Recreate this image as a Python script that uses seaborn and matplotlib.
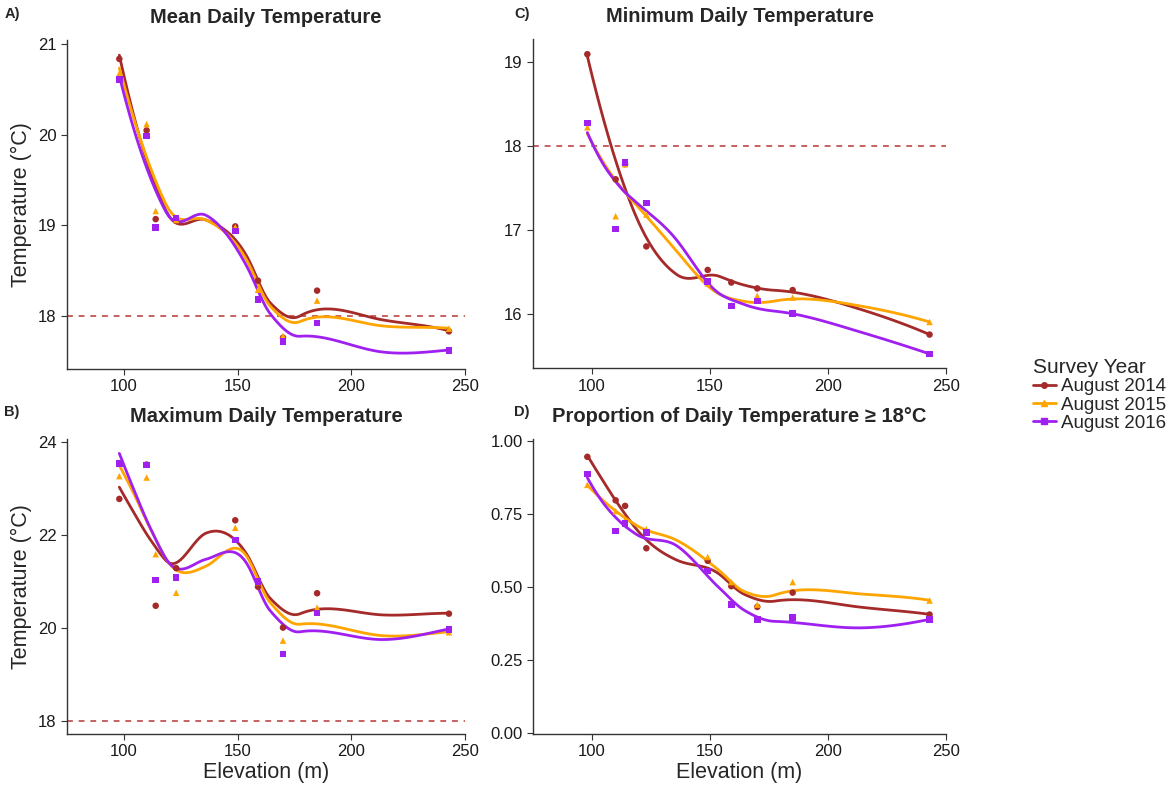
import numpy as np
import pandas as pd
import matplotlib
matplotlib.use("Agg")
import matplotlib.pyplot as plt
import seaborn as sns
from matplotlib.lines import Line2D

sns.set_theme(style="ticks")
plt.rcParams['font.family'] = ['Liberation Sans', 'DejaVu Sans']

# ---------------- data ----------------
elevation = [98, 110, 114, 123, 149, 159, 170, 185, 243]
years = ["August 2014", "August 2015", "August 2016"]

mean_2014 = [20.84, 20.05, 19.07, 19.05, 18.99, 18.39, 17.76, 18.28, 17.83]
mean_2015 = [20.68, 20.12, 19.16, 19.06, 18.98, 18.29, 17.78, 18.17, 17.86]
mean_2016 = [20.61, 19.99, 18.98, 19.08, 18.94, 18.18, 17.72, 17.92, 17.62]

min_2014 = [19.09, 17.60, 17.78, 16.80, 16.52, 16.37, 16.30, 16.28, 15.75]
min_2015 = [18.22, 17.16, 17.78, 17.18, 16.36, 16.10, 16.21, 16.19, 15.90]
min_2016 = [18.27, 17.01, 17.80, 17.32, 16.38, 16.09, 16.15, 16.00, 15.52]

max_2014 = [22.77, 23.51, 20.47, 21.28, 22.31, 20.88, 20.00, 20.74, 20.30]
max_2015 = [23.26, 23.23, 21.58, 20.75, 22.15, 20.98, 19.72, 20.43, 19.90]
max_2016 = [23.53, 23.50, 21.03, 21.08, 21.89, 20.99, 19.43, 20.31, 19.96]

prop_2014 = [0.946, 0.797, 0.778, 0.633, 0.590, 0.503, 0.432, 0.481, 0.406]
prop_2015 = [0.850, 0.760, 0.730, 0.698, 0.603, 0.517, 0.440, 0.517, 0.454]
prop_2016 = [0.887, 0.692, 0.718, 0.686, 0.555, 0.440, 0.389, 0.395, 0.389]

palette = {"August 2014": "#A52A2A", "August 2015": "#FFA500", "August 2016": "#A020F0"}
markers = {"August 2014": "o", "August 2015": "^", "August 2016": "s"}
threshold = 18

panels = [
    ("A)", "Mean Daily Temperature", [mean_2014, mean_2015, mean_2016], [0.0573, 0.533, 0.340, 0.4165], (17.415, 21.05), [18, 19, 20, 21], True, False, True, (12, 14)),
    ("C)", "Minimum Daily Temperature", [min_2014, min_2015, min_2016], [0.4556, 0.534, 0.353, 0.4165], (15.35, 19.27), [16, 17, 18, 19], False, False, True, (522, 14)),
    ("B)", "Maximum Daily Temperature", [max_2014, max_2015, max_2016], [0.0573, 0.0709, 0.340, 0.3734], (17.71, 24.06), [18, 20, 22, 24], True, True, True, (12, 412)),
    ("D)", "Proportion of Daily Temperature \u2265 18\u00b0C", [prop_2014, prop_2015, prop_2016], [0.4556, 0.0709, 0.353, 0.3734], (-0.003, 1.007), [0.0, 0.25, 0.5, 0.75, 1.0], False, True, False, (522, 412)),
]


def local_fit(x, y, x0, q, degree=2):
    d = np.abs(x - x0)
    ds = np.sort(d)
    h = (ds[q - 1] + ds[min(q, len(ds) - 1)]) / 2
    w = np.clip(1 - (d / h) ** 3, 0, None) ** 3
    X = np.vander(x - x0, degree + 1)
    sw = np.sqrt(w)
    beta, *_ = np.linalg.lstsq(X * sw[:, None], y * sw, rcond=None)
    return beta[-1], beta[-2]  # value, slope


def kd_vertices(xs, fc):
    verts = []

    def split(pts):
        if len(pts) <= fc:
            return
        m = (len(pts) + 1) // 2
        verts.append((pts[m - 1] + pts[m]) / 2)
        split(pts[:m])
        split(pts[m:])

    split(list(xs))
    return verts


def loess(x, y, grid, span=0.6, degree=2, cell=0.2):
    """Local quadratic regression, kd-tree vertices + cubic Hermite interpolation."""
    x = np.asarray(x, float); y = np.asarray(y, float)
    n = len(x); q = int(np.floor(n * span))
    fc = max(int(np.floor(n * span * cell)), 1)
    xs = np.sort(x)
    mu = 0.005 * (xs[-1] - xs[0])
    verts = np.array(sorted([xs[0] - mu, xs[-1] + mu] + kd_vertices(xs, fc)))
    vals = np.array([local_fit(x, y, v, q, degree) for v in verts])
    out = []
    for g in grid:
        i = np.clip(np.searchsorted(verts, g) - 1, 0, len(verts) - 2)
        x0, x1 = verts[i], verts[i + 1]
        hh = x1 - x0
        t = (g - x0) / hh
        f0, d0 = vals[i]; f1, d1 = vals[i + 1]
        out.append((2 * t**3 - 3 * t**2 + 1) * f0 + (t**3 - 2 * t**2 + t) * hh * d0
                   + (-2 * t**3 + 3 * t**2) * f1 + (t**3 - t**2) * hh * d1)
    return np.array(out)


fig = plt.figure(figsize=(11.7, 7.9), dpi=100)
grid = np.linspace(min(elevation), max(elevation), 120)

for label, title, series, pos, ylim, yticks, ylab, xlab, hline, lpos in panels:
    ax = fig.add_axes(pos)
    pts = pd.DataFrame({
        "Elevation": elevation * 3,
        "Value": series[0] + series[1] + series[2],
        "Year": sum([[yr] * len(elevation) for yr in years], []),
    })
    smooth = pd.concat([
        pd.DataFrame({"Elevation": grid, "Value": loess(elevation, vals, grid), "Year": yr})
        for yr, vals in zip(years, series)
    ])
    if hline:
        ax.axhline(threshold, color="#C86060", lw=1.4, ls=(0, (3, 3)), zorder=1)
    sns.lineplot(data=smooth, x="Elevation", y="Value", hue="Year", palette=palette,
                 lw=2.0, ax=ax, legend=False, sort=False, estimator=None, zorder=3)
    sns.scatterplot(data=pts, x="Elevation", y="Value", hue="Year", style="Year",
                    markers=markers, palette=palette, s=22, linewidth=0, ax=ax,
                    legend=False, zorder=4)
    ax.set_xlim(75, 250)
    ax.set_ylim(*ylim)
    ax.set_xticks([100, 150, 200, 250])
    ax.set_yticks(yticks)
    if label == "D)":
        ax.set_yticklabels(["0.00", "0.25", "0.50", "0.75", "1.00"])
    ax.tick_params(axis="both", labelsize=12, colors="#333333", labelcolor="#1a1a1a",
                   length=4, width=0.8, direction="out")
    for s in ["top", "right"]:
        ax.spines[s].set_visible(False)
    for s in ["left", "bottom"]:
        ax.spines[s].set_color("#333333")
        ax.spines[s].set_linewidth(1.0)
    ax.set_title(title, fontsize=14.5, fontweight="bold", pad=12)
    ax.set_ylabel("Temperature (\u00b0C)" if ylab else "", fontsize=15.5)
    ax.set_xlabel("Elevation (m)" if xlab else "", fontsize=15.5, labelpad=2)
    fig.text(lpos[0] / 1170, 1 - lpos[1] / 790, label, fontsize=10.5, fontweight="bold",
             ha="center", va="center")

handles = [Line2D([0], [0], color=palette[yr], lw=2, marker=markers[yr], markersize=4)
           for yr in years]
fig.legend(handles, years, loc="center left", bbox_to_anchor=(0.875, 0.5), frameon=False,
           title="Survey Year", fontsize=13.5, title_fontsize=15, handlelength=1.2,
           handletextpad=0.3, labelspacing=0.05, borderpad=0)
leg = fig.legends[0]
leg._legend_box.align = "left"

fig.savefig("out.png", dpi=100)
